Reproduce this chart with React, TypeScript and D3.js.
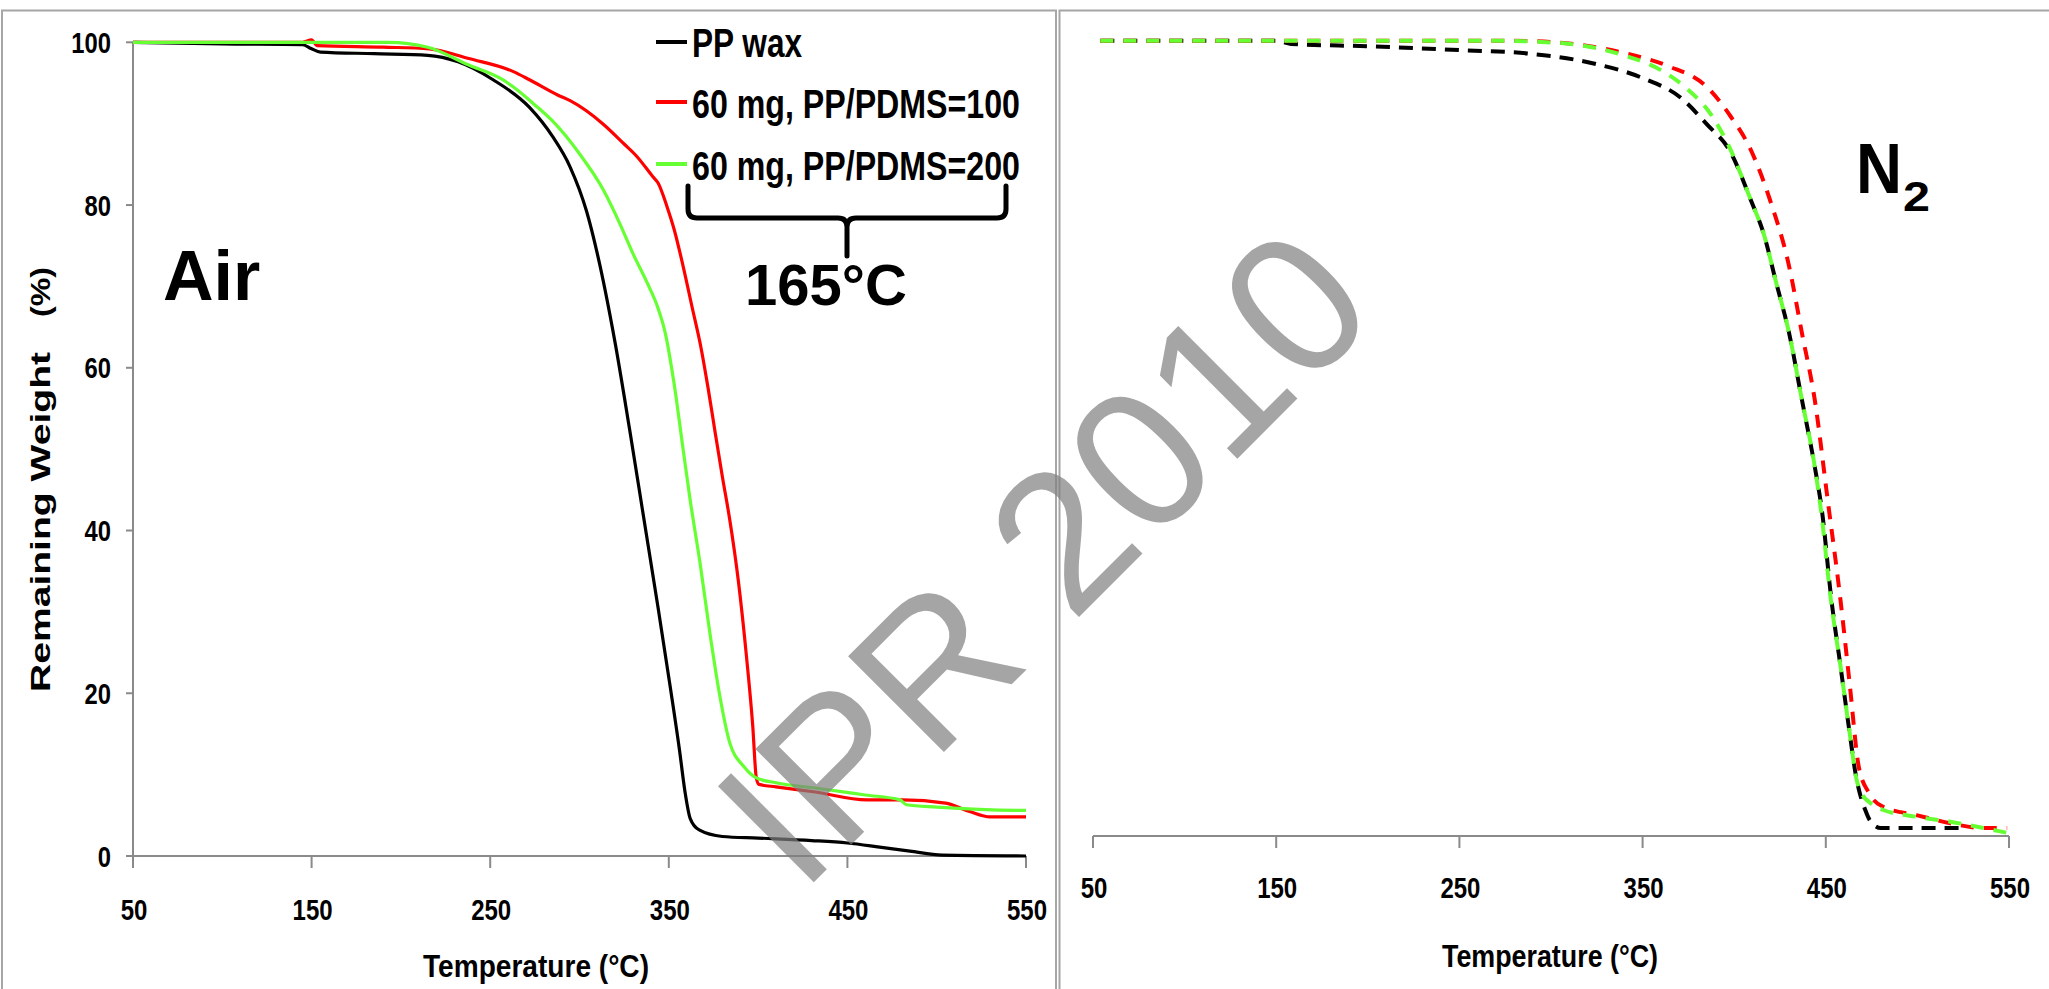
import React from "react";
import * as d3 from "d3";

// ---------- data ----------
const xTicks = [50, 150, 250, 350, 450, 550];
const yTicks = [0, 20, 40, 60, 80, 100];

const seriesNames = ["PP wax", "60 mg, PP/PDMS=100", "60 mg, PP/PDMS=200"];
const seriesColors = ["#000000", "#ff0000", "#66ff33"];

// Air atmosphere (solid lines) [temperature °C, remaining weight %]
const airPPwax: [number, number][] = [
  [50, 100], [100, 99.8], [145, 99.7], [150, 99.2], [155, 98.8], [185, 98.6], [215, 98.4],
  [232, 97.6], [251.6, 95.4], [272, 92], [285, 88.4], [294.7, 84.7], [304, 79.2], [310, 74],
  [320, 63], [328, 52.5], [336, 41.5], [344, 30.5], [351, 20.5], [356, 13], [359, 8],
  [362, 4.6], [367, 3.2], [380, 2.4], [400, 2.2], [430, 1.9], [450, 1.6], [468, 1.1],
  [485, 0.6], [503, 0.1], [550, 0],
];
const airPDMS100: [number, number][] = [
  [50, 100], [145, 100], [150, 100.3], [153, 99.6], [190, 99.4], [216, 99.2], [238, 98],
  [263, 96.4], [272, 95.4], [288, 93.5], [295, 92.8], [313, 90], [325, 87.5], [332, 86],
  [341, 83.5], [344, 82.7], [349, 79.8], [353, 77], [358, 72.5], [363, 67.5], [368, 62.5],
  [372, 57.5], [376, 52], [380, 46.6], [384, 41.5], [389, 33.7], [393.5, 24.5], [397, 16],
  [399, 9.6], [400.5, 8.8], [410, 8.5], [431, 7.9], [461, 6.9], [481, 6.9], [505, 6.5],
  [518, 5.5], [530, 4.8], [550, 4.8],
];
const airPDMS200: [number, number][] = [
  [50, 100], [193, 100], [215, 99.4], [238, 97.2], [257, 95.4], [263, 94.5], [275, 92.3],
  [285, 90.3], [300, 86.3], [313, 82], [322, 78], [330, 74], [338, 70.4], [344, 67.3],
  [348, 64.3], [353, 58], [358, 50], [362, 43.7], [367.5, 36], [373, 27.4], [378.7, 19.5],
  [384, 14], [392, 11], [399, 9.6], [410, 9], [434, 8.3], [460, 7.5], [479.5, 6.9],
  [483, 6.3], [500, 6], [548, 5.6], [550, 5.6],
];

// N2 atmosphere (dashed lines)
const n2PPwax: [number, number][] = [
  [54, 100], [150, 100], [158, 99.6], [200, 99.3], [252, 98.8], [287, 98.4], [322, 97.2],
  [350, 95.3], [371, 92.8], [385, 89.5], [398, 86], [409, 80], [416, 75.8], [423, 69.5],
  [430, 63.2], [437, 54.8], [444, 46.4], [448, 40.7], [453, 29.8], [458, 21.4], [463, 13],
  [466.5, 7.5], [469, 5], [471.5, 3.3], [474, 2], [480, 1], [525, 1],
];
const n2PDMS100: [number, number][] = [
  [54, 100], [158, 100], [277, 100], [315, 99.5], [339, 98.5], [364, 96.8], [385, 94.2],
  [398, 90.5], [409, 86.3], [419.5, 80], [430, 71.6], [437, 63.2], [444, 54.8], [451, 42.3],
  [458, 29.7], [463, 19.2], [468, 8.7], [473.6, 5.4], [481, 3.7], [500, 2.6], [518, 1.6],
  [536, 1], [549, 1],
];
const n2PDMS200: [number, number][] = [
  [54, 100], [270, 100], [305, 99.7], [339, 98.2], [360, 96.3], [374, 94], [388, 90.5],
  [398, 86.3], [409, 80], [416, 75.8], [423, 69.5], [430, 63.2], [437, 54.8], [444, 46.4],
  [447.5, 40.7], [452.7, 29.8], [458, 21.4], [463, 13], [466.8, 7.1], [470, 5.2], [474, 4.2],
  [481, 3.3], [500, 2.4], [518, 1.8], [536, 1], [549, 0.4],
];

const airSeries = [airPPwax, airPDMS100, airPDMS200];
const n2Series = [n2PPwax, n2PDMS100, n2PDMS200];

// ---------- layout ----------
const W = 2049;
const H = 989;
const FONT = "'Liberation Sans', Arial, sans-serif";
const AXIS = "#8a8a8a";
const FRAME = "#a6a6a6";

const xL = d3.scaleLinear().domain([50, 550]).range([133, 1026]);
const yL = d3.scaleLinear().domain([0, 100]).range([856, 42.3]);
const xR = d3.scaleLinear().domain([50, 550]).range([1093, 2009]);
const yR = d3.scaleLinear().domain([0, 100]).range([836, 40.7]);

function CText(props: {
  x: number; y: number; sx?: number; size: number; anchor?: string; children: React.ReactNode;
}) {
  const { x, y, sx = 1, size, anchor = "start", children } = props;
  return (
    <text
      transform={`translate(${x},${y}) scale(${sx},1)`}
      textAnchor={anchor}
      fontSize={size}
      fontWeight="bold"
      fontFamily={FONT}
      fill="#000"
    >
      {children}
    </text>
  );
}

export default function App() {
  const lineL = d3
    .line<[number, number]>()
    .x((d) => xL(d[0]))
    .y((d) => yL(d[1]))
    .curve(d3.curveMonotoneX);
  const lineR = d3
    .line<[number, number]>()
    .x((d) => xR(d[0]))
    .y((d) => yR(d[1]))
    .curve(d3.curveMonotoneX);

  const legendY = [42, 102, 164];
  const legendBase = [57, 117.5, 179.5];
  const legendLen = [110, 328, 328];

  return (
    <svg
      width={W}
      height={H}
      style={{ position: "absolute", left: 0, top: 0, background: "#fff" }}
    >
      <rect x={0} y={0} width={W} height={H} fill="#fff" />
      {/* panel frames */}
      <rect x={2} y={10.5} width={1054} height={1100} fill="none" stroke={FRAME} strokeWidth={2} />
      <rect x={1059.5} y={10.5} width={1100} height={1100} fill="none" stroke={FRAME} strokeWidth={2} />

      {/* ---------- left panel (Air) ---------- */}
      <line x1={xL(50)} x2={xL(50)} y1={yL(100)} y2={yL(0)} stroke={AXIS} strokeWidth={2} />
      <line x1={xL(50)} x2={xL(550)} y1={yL(0)} y2={yL(0)} stroke={AXIS} strokeWidth={2} />
      {yTicks.map((t) => (
        <g key={"yt" + t}>
          <line x1={xL(50) - 7} x2={xL(50)} y1={yL(t)} y2={yL(t)} stroke={AXIS} strokeWidth={2} />
          <CText x={111} y={yL(t) + 10.5} sx={0.82} size={29} anchor="end">
            {t}
          </CText>
        </g>
      ))}
      {xTicks.map((t) => (
        <g key={"xtl" + t}>
          <line x1={xL(t)} x2={xL(t)} y1={yL(0)} y2={yL(0) + 12} stroke={AXIS} strokeWidth={2} />
          <CText x={xL(t) + 1} y={920} sx={0.8} size={30} anchor="middle">
            {t}
          </CText>
        </g>
      ))}
      <text
        x={536}
        y={977}
        textAnchor="middle"
        fontSize={32}
        fontWeight="bold"
        fontFamily={FONT}
        textLength={226}
        lengthAdjust="spacingAndGlyphs"
      >
        Temperature (°C)
      </text>
      <text
        transform="translate(50,692) rotate(-90)"
        fontSize={27}
        fontWeight="bold"
        fontFamily={FONT}
        textLength={340}
        lengthAdjust="spacingAndGlyphs"
      >
        Remaining Weight
      </text>
      <text
        transform="translate(50,317) rotate(-90)"
        fontSize={27}
        fontWeight="bold"
        fontFamily={FONT}
        textLength={50}
        lengthAdjust="spacingAndGlyphs"
      >
        (%)
      </text>

      {airSeries.map((s, i) => (
        <path
          key={"air" + i}
          d={lineL(s) || ""}
          fill="none"
          stroke={seriesColors[i]}
          strokeWidth={3.2}
          strokeLinejoin="round"
        />
      ))}

      {/* legend */}
      {seriesNames.map((n, i) => (
        <g key={"lg" + i}>
          <line x1={656} x2={687} y1={legendY[i]} y2={legendY[i]} stroke={seriesColors[i]} strokeWidth={4} />
          <text
            x={692}
            y={legendBase[i]}
            fontSize={40}
            fontWeight="bold"
            fontFamily={FONT}
            textLength={legendLen[i]}
            lengthAdjust="spacingAndGlyphs"
          >
            {n}
          </text>
        </g>
      ))}
      {/* brace */}
      <path
        d="M688,186 V209 Q688,218 697,218 H838 Q847,218 847,227 V256 M1006,186 V209 Q1006,218 997,218 H856 Q847,218 847,227"
        fill="none"
        stroke="#000"
        strokeWidth={5}
        strokeLinecap="round"
      />
      <text x={826} y={305} textAnchor="middle" fontSize={58} fontWeight="bold" fontFamily={FONT}>
        165°C
      </text>
      <text x={163} y={300} fontSize={70} fontWeight="bold" fontFamily={FONT}>
        Air
      </text>

      {/* ---------- right panel (N2) ---------- */}
      <line x1={xR(50)} x2={xR(550)} y1={yR(0)} y2={yR(0)} stroke={AXIS} strokeWidth={2} />
      {xTicks.map((t) => (
        <g key={"xtr" + t}>
          <line x1={xR(t)} x2={xR(t)} y1={yR(0)} y2={yR(0) + 12} stroke={AXIS} strokeWidth={2} />
          <CText x={xR(t) + 1} y={898} sx={0.8} size={30} anchor="middle">
            {t}
          </CText>
        </g>
      ))}
      <text
        x={1550}
        y={967}
        textAnchor="middle"
        fontSize={32}
        fontWeight="bold"
        fontFamily={FONT}
        textLength={216}
        lengthAdjust="spacingAndGlyphs"
      >
        Temperature (°C)
      </text>
      {n2Series.map((s, i) => (
        <path
          key={"n2" + i}
          d={lineR(s) || ""}
          fill="none"
          stroke={seriesColors[i]}
          strokeWidth={4}
          strokeDasharray={i === 0 ? "14 9" : "13 10"}
        />
      ))}
      <text
        x={1856}
        y={193}
        fontSize={70}
        fontWeight="bold"
        fontFamily={FONT}
        textLength={46}
        lengthAdjust="spacingAndGlyphs"
      >
        N
      </text>
      <text
        x={1903}
        y={211}
        fontSize={43}
        fontWeight="bold"
        fontFamily={FONT}
        textLength={27}
        lengthAdjust="spacingAndGlyphs"
      >
        2
      </text>

      {/* watermark */}
      <text
        transform="translate(801,895) rotate(-45)"
        fontSize={197}
        fontFamily={FONT}
        fill="#808080"
        opacity={0.7}
      >
        IPR 2010
      </text>
    </svg>
  );
}
